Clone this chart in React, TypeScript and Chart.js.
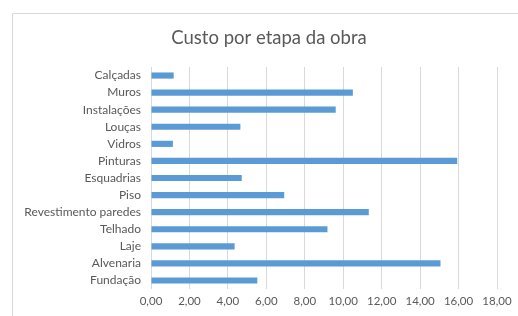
import React, { useEffect, useRef } from "react";
import { Chart, registerables } from "chart.js";

Chart.register(...registerables);

const categories = [
  "Fundação",
  "Alvenaria",
  "Laje",
  "Telhado",
  "Revestimento paredes",
  "Piso",
  "Esquadrias",
  "Pinturas",
  "Vidros",
  "Louças",
  "Instalações",
  "Muros",
  "Calçadas",
];

const custo = [5.53, 15.06, 4.35, 9.18, 11.33, 6.93, 4.72, 15.93, 1.14, 4.65, 9.61, 10.5, 1.18];

const xTickLabels = ["0,00", "2,00", "4,00", "6,00", "8,00", "10,00", "12,00", "14,00", "16,00", "18,00"];

const title = "Custo por etapa da obra";

const FONT = "Lato, 'Open Sans', sans-serif";
const TEXT = "#595959";

const framePlugin = {
  id: "frame",
  beforeDraw(chart: any) {
    const ctx = chart.ctx;
    ctx.save();
    ctx.strokeStyle = "#d9d9d9";
    ctx.lineWidth = 1;
    ctx.beginPath();
    ctx.moveTo(12.5, chart.height + 2);
    ctx.lineTo(12.5, 13.5);
    ctx.lineTo(chart.width + 2, 13.5);
    ctx.stroke();
    ctx.restore();
  },
};

export default function App() {
  const ref = useRef<HTMLCanvasElement>(null);

  useEffect(() => {
    if (!ref.current) return;
    const chart = new Chart(ref.current, {
      type: "bar",
      data: {
        labels: categories,
        datasets: [
          {
            label: "Custo",
            data: custo,
            backgroundColor: "#5b9bd5",
            borderWidth: 0,
            barPercentage: 0.36,
            categoryPercentage: 1,
          },
        ],
      },
      options: {
        indexAxis: "y",
        animation: false,
        responsive: false,
        maintainAspectRatio: false,
        layout: { padding: { left: 20, right: 0, top: 0, bottom: 0 } },
        plugins: {
          legend: { display: false },
          tooltip: { enabled: false },
          title: {
            display: true,
            text: title,
            color: TEXT,
            font: { family: FONT, size: 18.5, weight: "normal" },
            padding: { top: 27, bottom: 17.8 },
          },
        },
        scales: {
          x: {
            min: 0,
            max: 18,
            ticks: {
              stepSize: 2,
              color: TEXT,
              font: { family: FONT, size: 11.5 },
              padding: 5,
              maxRotation: 0,
              callback: (_v: any, i: number) => xTickLabels[i],
            },
            grid: { color: "#d9d9d9", drawTicks: false },
            border: { display: false },
            afterFit: (s: any) => {
              s.height = 27;
            },
          },
          y: {
            reverse: true,
            ticks: {
              color: TEXT,
              font: { family: FONT, size: 12 },
              padding: 10,
              autoSkip: false,
            },
            grid: { display: false, drawTicks: false },
            border: { display: false },
            afterFit: (s: any) => {
              s.width = 131;
            },
          },
          y2: {
            type: "linear",
            position: "right",
            display: true,
            ticks: { display: false },
            grid: { display: false, drawTicks: false },
            border: { display: false },
            afterFit: (s: any) => {
              s.width = 21;
            },
          },
        },
      },
      plugins: [framePlugin],
    } as any);
    return () => chart.destroy();
  }, []);

  return (
    <div style={{ position: "fixed", left: 0, top: 0, width: 518, height: 316, background: "#fff" }}>
      <canvas ref={ref} width={518} height={316} style={{ display: "block" }} />
    </div>
  );
}
